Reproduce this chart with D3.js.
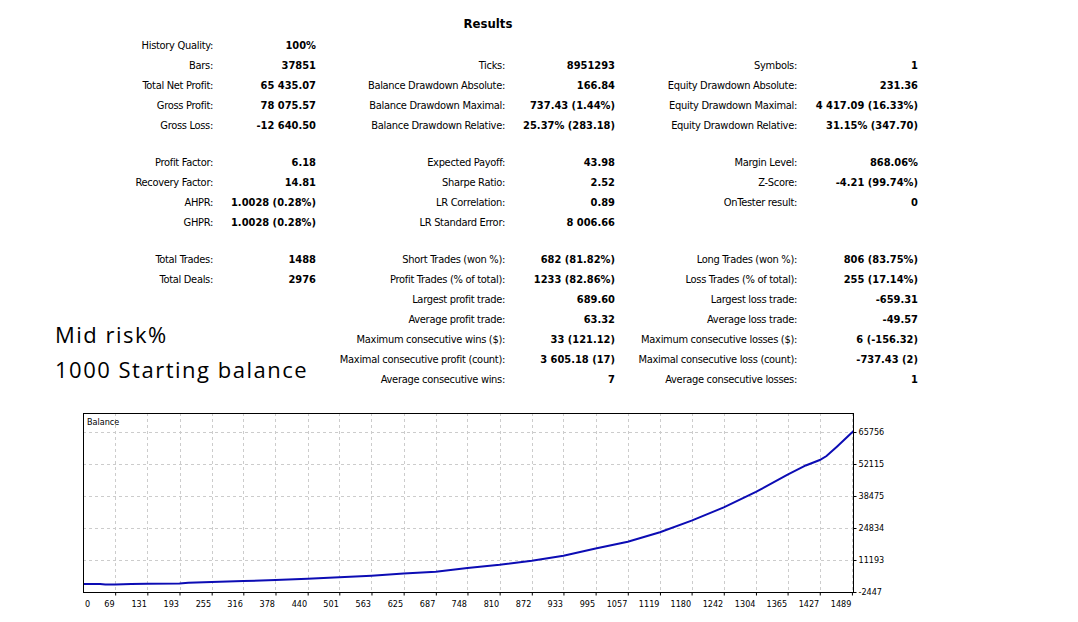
<!DOCTYPE html>
<html>
<head>
<meta charset="utf-8">
<script src="https://cdn.jsdelivr.net/npm/d3@7"></script>
<style>
  body { margin: 0; background: #fff; }
  svg { display: block; }
  .tbl text { font-family: Tahoma, 'DejaVu Sans Condensed', sans-serif; font-size: 11px; fill: #000; }
  .tbl .lab { letter-spacing: -0.3px; }
  .tbl .val { font-weight: bold; }
  .axis text { font-family: Tahoma, 'DejaVu Sans Condensed', sans-serif; font-size: 9px; fill: #000; }
  .grid line { stroke: #cccccc; stroke-dasharray: 3,3; }
</style>
</head>
<body>
<div id="chart"></div>
<script>
// report rows: [label, value], null = blank cell
const col1 = [
  ['History Quality:', '100%'], ['Bars:', '37851'], ['Total Net Profit:', '65 435.07'],
  ['Gross Profit:', '78 075.57'], ['Gross Loss:', '-12 640.50'],
  ['Profit Factor:', '6.18'], ['Recovery Factor:', '14.81'], ['AHPR:', '1.0028 (0.28%)'], ['GHPR:', '1.0028 (0.28%)'],
  ['Total Trades:', '1488'], ['Total Deals:', '2976'],
  null, null, null, null, null
];
const col2 = [
  null, ['Ticks:', '8951293'], ['Balance Drawdown Absolute:', '166.84'],
  ['Balance Drawdown Maximal:', '737.43 (1.44%)'], ['Balance Drawdown Relative:', '25.37% (283.18)'],
  ['Expected Payoff:', '43.98'], ['Sharpe Ratio:', '2.52'], ['LR Correlation:', '0.89'], ['LR Standard Error:', '8 006.66'],
  ['Short Trades (won %):', '682 (81.82%)'], ['Profit Trades (% of total):', '1233 (82.86%)'],
  ['Largest profit trade:', '689.60'], ['Average profit trade:', '63.32'],
  ['Maximum consecutive wins ($):', '33 (121.12)'], ['Maximal consecutive profit (count):', '3 605.18 (17)'],
  ['Average consecutive wins:', '7']
];
const col3 = [
  null, ['Symbols:', '1'], ['Equity Drawdown Absolute:', '231.36'],
  ['Equity Drawdown Maximal:', '4 417.09 (16.33%)'], ['Equity Drawdown Relative:', '31.15% (347.70)'],
  ['Margin Level:', '868.06%'], ['Z-Score:', '-4.21 (99.74%)'], ['OnTester result:', '0'], null,
  ['Long Trades (won %):', '806 (83.75%)'], ['Loss Trades (% of total):', '255 (17.14%)'],
  ['Largest loss trade:', '-659.31'], ['Average loss trade:', '-49.57'],
  ['Maximum consecutive losses ($):', '6 (-156.32)'], ['Maximal consecutive loss (count):', '-737.43 (2)'],
  ['Average consecutive losses:', '1']
];
const notes = ['Mid risk%', '1000 Starting balance'];

// balance curve: trade number / balance
const trades   = [0, 40, 50, 69, 100, 131, 193, 210, 255, 316, 378, 440, 501, 563, 625, 687, 748, 810, 872, 933, 995, 1057, 1119, 1180, 1242, 1304, 1365, 1400, 1427, 1440, 1460, 1489, 1493];
const balances = [1000, 1000, 800, 780, 1000, 1050, 1200, 1500, 1800, 2200, 2650, 3200, 3800, 4500, 5450, 6200, 7800, 9150, 10900, 13000, 16100, 19000, 23000, 28000, 33600, 40200, 47600, 51500, 53800, 55500, 59500, 65500, 66435];

const xTicks = [0, 69, 131, 193, 255, 316, 378, 440, 501, 563, 625, 687, 748, 810, 872, 933, 995, 1057, 1119, 1180, 1242, 1304, 1365, 1427, 1489];
const yTicks = [-2447, 11193, 24834, 38475, 52115, 65756];

const width = 1078, height = 622;
const svg = d3.select('#chart').append('svg')
  .attr('width', width).attr('height', height);
svg.append('rect').attr('width', width).attr('height', height).attr('fill', '#fff');

// ---- results table
const tbl = svg.append('g').attr('class', 'tbl');
tbl.append('text').attr('x', 488).attr('y', 27.5)
  .attr('text-anchor', 'middle')
  .style('font-weight', 'bold').style('font-size', '13px')
  .text('Results');

const rowY = [45, 65, 85, 105, 125, 162, 182, 202, 222, 259, 279, 299, 319, 339, 359, 379];
const cols = [
  {rows: col1, labelX: 213, valueX: 316},
  {rows: col2, labelX: 505, valueX: 615},
  {rows: col3, labelX: 797, valueX: 918}
];
cols.forEach(c => {
  const cells = c.rows.map((r, i) => r ? {label: r[0], value: r[1], y: rowY[i]} : null).filter(Boolean);
  tbl.selectAll(null).data(cells).enter().append('text')
    .attr('class', 'lab')
    .attr('x', c.labelX).attr('y', d => d.y + 4)
    .attr('text-anchor', 'end')
    .text(d => d.label);
  tbl.selectAll(null).data(cells).enter().append('text')
    .attr('class', 'val')
    .attr('x', c.valueX).attr('y', d => d.y + 4)
    .attr('text-anchor', 'end')
    .text(d => d.value);
});

svg.selectAll('.note').data(notes).enter().append('text')
  .attr('class', 'note')
  .attr('x', 55).attr('y', (d, i) => 343 + i * 35)
  .style('font-family', "'Open Sans', 'Noto Sans', sans-serif")
  .style('font-size', '22px')
  .style('letter-spacing', '1.5px')
  .attr('fill', '#000')
  .text(d => d);

// ---- balance chart
const frame = {l: 83, t: 413, r: 854, b: 592};
const x = d3.scaleLinear().domain([7, 1493]).range([frame.l, frame.r]);
const y = d3.scaleLinear().domain([-2447, 65756]).range([frame.b, 432]);

const grid = svg.append('g').attr('class', 'grid');
grid.selectAll('.gx').data(xTicks.slice(1)).enter().append('line')
  .attr('x1', d => Math.round(x(d)) + 0.5).attr('x2', d => Math.round(x(d)) + 0.5)
  .attr('y1', frame.t).attr('y2', frame.b);
grid.selectAll('.gy').data(yTicks.slice(1)).enter().append('line')
  .attr('x1', frame.l).attr('x2', frame.r)
  .attr('y1', d => Math.round(y(d)) + 0.5).attr('y2', d => Math.round(y(d)) + 0.5);

svg.append('defs').append('clipPath').attr('id', 'clip')
  .append('rect').attr('x', frame.l).attr('y', frame.t)
  .attr('width', frame.r - frame.l).attr('height', frame.b - frame.t);

const line = d3.line().x((d, i) => x(trades[i])).y(d => y(d));
svg.append('path')
  .datum(balances)
  .attr('clip-path', 'url(#clip)')
  .attr('fill', 'none')
  .attr('stroke', '#0c0cb4')
  .attr('stroke-width', 2)
  .attr('d', line);

svg.append('rect')
  .attr('x', frame.l + 0.5).attr('y', frame.t + 0.5)
  .attr('width', frame.r - frame.l - 1).attr('height', frame.b - frame.t)
  .attr('fill', 'none').attr('stroke', '#000');

svg.append('text').attr('x', 87).attr('y', 425)
  .style('font-family', "Tahoma, 'DejaVu Sans Condensed', sans-serif")
  .style('font-size', '9px')
  .text('Balance');

// axes
const axisX = d3.axisBottom(x).tickValues(xTicks).tickSize(3).tickSizeOuter(0).tickFormat(d => d);
const gx = svg.append('g').attr('class', 'axis')
  .attr('transform', `translate(0,${frame.b + 0.5})`)
  .call(axisX);
gx.select('.domain').remove();
gx.selectAll('.tick line').attr('stroke', '#000');
gx.selectAll('.tick text')
  .attr('y', 8).attr('dy', '0.71em')
  .attr('text-anchor', 'end').attr('x', -1);
gx.selectAll('.tick').filter(d => d === 0)
  .attr('transform', `translate(${frame.l},0)`)
  .select('text').attr('text-anchor', 'start').attr('x', 2);
gx.selectAll('.tick').filter(d => d === 0).select('line').remove();

const axisY = d3.axisRight(y).tickValues(yTicks).tickSize(3).tickSizeOuter(0).tickFormat(d => d);
const gy = svg.append('g').attr('class', 'axis')
  .attr('transform', `translate(${frame.r - 0.5},0)`)
  .call(axisY);
gy.select('.domain').remove();
gy.selectAll('.tick line').attr('stroke', '#000');
gy.selectAll('.tick text').attr('x', 5);
</script>
</body>
</html>
